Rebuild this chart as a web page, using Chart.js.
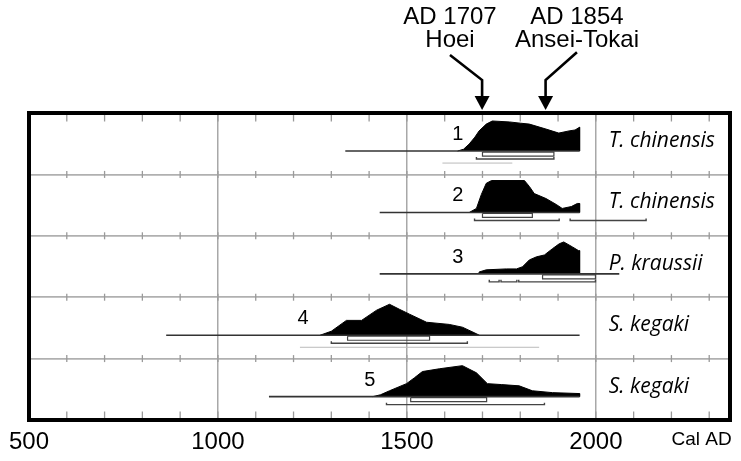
<!DOCTYPE html>
<html><head><meta charset="utf-8">
<script src="https://cdn.jsdelivr.net/npm/chart.js@4.4.0/dist/chart.umd.min.js"></script>
<style>html,body{margin:0;padding:0;background:#fff;}canvas{display:block;}</style>
</head><body>
<canvas id="c" width="741" height="461"></canvas>
<script>
// ---------- data ----------
const sampleNumbers = ['1', '2', '3', '4', '5'];
const sampleNames = ['T. chinensis', 'T. chinensis', 'P. kraussii', 'S. kegaki', 'S. kegaki'];
const numberYears = [1635, 1635, 1635, 1225, 1402];
const nameYear = 2034;

const rangeStart = [1337, 1428, 1428, 863, 1135];
const rangeEnd = [1957, 1957, 2062, 1957, 1957];

const dens1Years = [1634, 1650, 1665, 1680, 1691, 1710, 1726, 1771, 1800, 1824, 1868, 1902, 1929, 1945, 1957, 1957];
const dens1Values = [0, 0.06, 0.23, 0.45, 0.65, 0.87, 0.97, 0.94, 0.9, 0.87, 0.71, 0.58, 0.65, 0.68, 0.77, 0];
const dens2Years = [1665, 1684, 1697, 1710, 1724, 1811, 1824, 1837, 1868, 1895, 1911, 1935, 1951, 1957, 1957];
const dens2Values = [0, 0.13, 0.58, 0.94, 1.03, 1.03, 0.84, 0.61, 0.45, 0.26, 0.13, 0.19, 0.29, 0.29, 0];
const dens3Years = [1691, 1691, 1710, 1763, 1790, 1806, 1824, 1843, 1864, 1885, 1903, 1915, 1938, 1954, 1957, 1957];
const dens3Values = [0, 0.06, 0.13, 0.16, 0.16, 0.23, 0.45, 0.55, 0.61, 0.81, 0.97, 1.03, 0.87, 0.75, 0.75, 0];
const dens4Years = [1270, 1300, 1340, 1380, 1420, 1454, 1480, 1507, 1552, 1612, 1647, 1675, 1692];
const dens4Values = [0, 0.13, 0.48, 0.48, 0.81, 1.0, 0.84, 0.68, 0.42, 0.35, 0.26, 0.1, 0];
const dens5Years = [1409, 1430, 1454, 1499, 1520, 1541, 1586, 1647, 1684, 1713, 1750, 1797, 1832, 1885, 1957, 1957];
const dens5Values = [0, 0.06, 0.19, 0.42, 0.61, 0.81, 0.9, 1.0, 0.77, 0.42, 0.39, 0.35, 0.19, 0.13, 0.1, 0];

const sigma1Start = [1700, 1700, 1859, 1343, 1510];
const sigma1End = [1889, 1832, 1999, 1560, 1711];
const sigma2Ranges = [
  [[1684, 1889]],
  [[1679, 1903], [1932, 2133]],
  [[1718, 1744], [1749, 1791], [1796, 1999]],
  [[1300, 1660]],
  [[1446, 1864]]
];
const faintRanges = [[1594, 1779], null, null, [1217, 1850], null];

const eventTitles = ['AD 1707', 'AD 1854'];
const eventNames = ['Hoei', 'Ansei-Tokai'];
const eventTextYears = [1614, 1950];
const arrowYears = [1699, 1867];

const tickValues = [500, 1000, 1500, 2000, 2280];
const tickLabels = ['500', '1000', '1500', '2000', 'Cal AD'];
const gridYears = [1000, 1500, 2000];

// ---------- layout helpers ----------
const U = 61.4;               // px per row unit
const px = p => p / U;
const base = k => k + 0.62;   // baseline of row k
const DENS = 31;              // px height of density 1.0

const densYears = [dens1Years, dens2Years, dens3Years, dens4Years, dens5Years];
const densValues = [dens1Values, dens2Values, dens3Values, dens4Values, dens5Values];

const datasets = [];

// minor tick marks on grid lines and frame
const minor = [];
for (let yr = 600; yr <= 2300; yr += 100) {
  for (let r = 1; r <= 4; r++) minor.push({x: yr, y: r});
  minor.push({x: yr, y: px(5)});
  minor.push({x: yr, y: 5 - px(5)});
}
datasets.push({type: 'scatter', data: minor, pointStyle: 'line', rotation: 90, pointRadius: 3.5,
  borderColor: '#9a9a9a', borderWidth: 1.3, backgroundColor: '#9a9a9a'});

for (let k = 0; k < 5; k++) {
  const b = base(k);
  // range line
  datasets.push({type: 'line', data: [{x: rangeStart[k], y: b}, {x: rangeEnd[k], y: b}],
    borderColor: '#333', borderWidth: 1.6, pointRadius: 0, fill: false});
  // probability distribution
  datasets.push({type: 'line',
    data: densYears[k].map((x, i) => ({x, y: b - densValues[k][i] * px(DENS)})),
    borderColor: '#000', backgroundColor: '#000', borderWidth: 1, pointRadius: 0,
    tension: 0, fill: {value: b}});
  // 1 sigma box
  const s = sigma1Start[k], e = sigma1End[k];
  datasets.push({type: 'line', data: [
      {x: s, y: b + px(1)}, {x: e, y: b + px(1)}, {x: e, y: b + px(5)}, {x: s, y: b + px(5)}, {x: s, y: b + px(1)}],
    borderColor: '#444', borderWidth: 1.2, pointRadius: 0, fill: false});
  // 2 sigma ranges
  sigma2Ranges[k].forEach(r => {
    datasets.push({type: 'line', data: [
        {x: r[0], y: b + px(6)}, {x: r[0], y: b + px(8)}, {x: r[1], y: b + px(8)}, {x: r[1], y: b + px(6)}],
      borderColor: '#444', borderWidth: 1.4, pointRadius: 0, fill: false});
  });
  if (faintRanges[k]) {
    datasets.push({type: 'line', data: [{x: faintRanges[k][0], y: b + px(12)}, {x: faintRanges[k][1], y: b + px(12)}],
      borderColor: '#bbb', borderWidth: 1, pointRadius: 0, fill: false});
  }
}

// event arrow shafts (outside plot area)
arrowYears.forEach((ay, i) => {
  datasets.push({type: 'line', clip: false, data: [
      {x: eventTextYears[i], y: i === 0 ? -0.945 : -0.99}, {x: ay, y: -0.537}, {x: ay, y: -0.22}],
    borderColor: '#000', borderWidth: 2.6, pointRadius: 0, fill: false});
});

const textPlugin = {
  id: 'texts',
  afterDraw(chart) {
    const {ctx, scales: {x, y}, chartArea} = chart;
    ctx.save();
    // arrow heads
    ctx.fillStyle = '#000';
    arrowYears.forEach(ay => {
      const xp = x.getPixelForValue(ay);
      const tip = y.getPixelForValue(-0.05);
      ctx.beginPath();
      ctx.moveTo(xp - 7.5, tip - 14);
      ctx.lineTo(xp + 7.5, tip - 14);
      ctx.lineTo(xp, tip);
      ctx.closePath();
      ctx.fill();
    });
    ctx.font = '20px "Liberation Sans", Arial, sans-serif';
    ctx.textAlign = 'center';
    ctx.textBaseline = 'alphabetic';
    sampleNumbers.forEach((n, k) => ctx.fillText(n, x.getPixelForValue(numberYears[k]), y.getPixelForValue(base(k)) - 11));
    ctx.font = 'italic 21px "Open Sans", sans-serif';
    ctx.textAlign = 'left';
    sampleNames.forEach((n, k) => ctx.fillText(n, x.getPixelForValue(nameYear), y.getPixelForValue(base(k)) - 4));
    ctx.font = '24px "Liberation Sans", Arial, sans-serif';
    ctx.textAlign = 'center';
    ctx.textBaseline = 'middle';
    eventTitles.forEach((t, i) => {
      const xp = x.getPixelForValue(eventTextYears[i]);
      ctx.fillText(t, xp, chartArea.top - 96);
      ctx.fillText(eventNames[i], xp, chartArea.top - 73);
    });
    ctx.lineWidth = 4;
    ctx.strokeStyle = '#000';
    ctx.strokeRect(chartArea.left, chartArea.top, chartArea.right - chartArea.left, chartArea.bottom - chartArea.top);
    ctx.restore();
  }
};

new Chart(document.getElementById('c'), {
  type: 'line',
  data: {datasets},
  options: {
    responsive: false, animation: false, devicePixelRatio: 1,
    layout: {padding: {top: 113, left: 29, right: 11, bottom: 0}},
    plugins: {legend: {display: false}, tooltip: {enabled: false}},
    elements: {line: {tension: 0}},
    scales: {
      x: {
        type: 'linear', min: 500, max: 2355,
        afterBuildTicks: s => { s.ticks = tickValues.map(v => ({value: v})); },
        afterFit: s => { s.height = 41; },
        ticks: {
          autoSkip: false, maxRotation: 0, minRotation: 0, padding: 8, color: '#000',
          font: c => ({family: '"Liberation Sans", Arial, sans-serif', size: (c.tick && c.tick.value === 2280) ? 19 : 24}),
          callback: v => tickLabels[tickValues.indexOf(v)]
        },
        grid: {
          drawTicks: false, lineWidth: 1.5,
          color: c => (c.tick && gridYears.includes(c.tick.value)) ? '#a8a8a8' : 'rgba(0,0,0,0)'
        },
        border: {display: false}
      },
      y: {
        type: 'linear', min: 0, max: 5, reverse: true,
        ticks: {display: false, stepSize: 1},
        grid: {drawTicks: false, lineWidth: 1.8,
          color: c => (c.tick && c.tick.value > 0 && c.tick.value < 5) ? '#b0b0b0' : 'rgba(0,0,0,0)'},
        border: {display: false}
      }
    }
  },
  plugins: [textPlugin]
});
</script>
</body></html>
